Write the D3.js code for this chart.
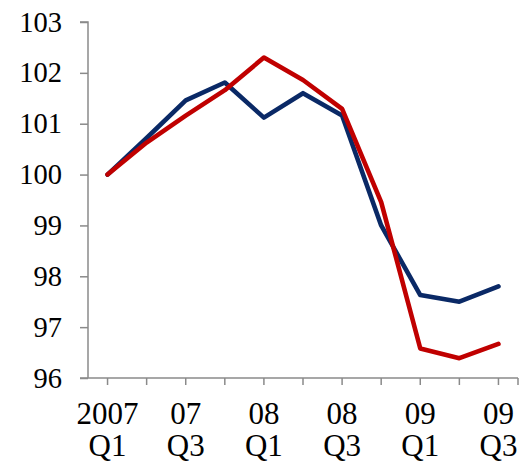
<!DOCTYPE html>
<html><head><meta charset="utf-8">
<script src="https://cdn.jsdelivr.net/npm/d3@7"></script>
<style>body{margin:0;background:#fff}</style>
</head><body>
<svg id="c" width="521" height="462"></svg>
<script>
const quarters = ["2007Q1","2007Q2","2007Q3","2007Q4","2008Q1","2008Q2","2008Q3","2008Q4","2009Q1","2009Q2","2009Q3"];
const tickLabels = [["2007","Q1"],null,["07","Q3"],null,["08","Q1"],null,["08","Q3"],null,["09","Q1"],null,["09","Q3"]];
const blue = [100.0, 100.72, 101.46, 101.81, 101.12, 101.60, 101.16, 99.0, 97.63, 97.50, 97.80];
const red  = [100.0, 100.63, 101.16, 101.66, 102.30, 101.86, 101.29, 99.46, 96.58, 96.39, 96.67];
const yTicks = [96,97,98,99,100,101,102,103];

const svg = d3.select("#c");
const mLeft = 88, mRight = 518, mTop = 22, mBottom = 378;
const x = d3.scaleBand().domain(quarters).range([mLeft, mRight]);
const xc = d => x(d) + x.bandwidth()/2;
const y = d3.scaleLinear().domain([96,103]).range([mBottom, mTop]);
const axisColor = "#8a8a8a";
const font = "'Liberation Serif','Times New Roman',serif";

// y axis
const ya = svg.append("g").attr("transform", `translate(${mLeft},0)`)
  .call(d3.axisLeft(y).tickValues(yTicks).tickSize(8).tickPadding(18).tickFormat(d3.format("d")));
ya.select(".domain").attr("stroke", axisColor).attr("stroke-width", 1.5).attr("d", `M-8,${mTop}H0V${mBottom}`);
ya.selectAll(".tick line").attr("stroke", axisColor).attr("stroke-width", 1.5);
ya.selectAll(".tick text").attr("font-family", font).attr("font-size", 28.5).attr("fill", "#000");

// x axis
const xa = svg.append("g").attr("transform", `translate(0,${mBottom})`);
xa.append("line").attr("x1", mLeft-8).attr("x2", mRight).attr("y1",0).attr("y2",0)
  .attr("stroke", axisColor).attr("stroke-width", 1.5);
const tickXs = quarters.map(xc).concat([mRight]);
xa.selectAll("line.t").data(tickXs).join("line").attr("class","t")
  .attr("x1", d=>d).attr("x2", d=>d).attr("y1",0).attr("y2",7)
  .attr("stroke", axisColor).attr("stroke-width", 1.5);
quarters.forEach((q,i) => {
  const lab = tickLabels[i];
  if (!lab) return;
  const t = xa.append("text").attr("x", xc(q)).attr("text-anchor","middle")
    .attr("font-family", font).attr("font-size", 31).attr("fill","#000");
  t.append("tspan").attr("x", xc(q)).attr("y", 46).text(lab[0]);
  t.append("tspan").attr("x", xc(q)).attr("y", 78).text(lab[1]);
});

const line = d3.line().x((d,i)=>xc(quarters[i])).y(d=>y(d));
svg.append("path").datum(blue).attr("d", line).attr("fill","none")
  .attr("stroke","#0a2966").attr("stroke-width",4.6).attr("stroke-linejoin","round").attr("stroke-linecap","round");
svg.append("path").datum(red).attr("d", line).attr("fill","none")
  .attr("stroke","#c00000").attr("stroke-width",4.6).attr("stroke-linejoin","round").attr("stroke-linecap","round");
</script>
</body></html>
